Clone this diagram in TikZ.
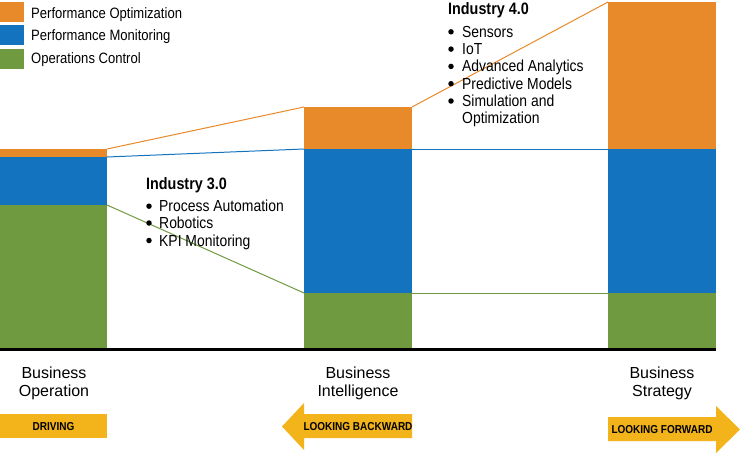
\documentclass[tikz,border=0pt]{standalone}
\usepackage{fontspec}
\setmainfont{Liberation Sans}
\newfontfamily\condfont[FakeStretch=0.87]{Liberation Sans}
\definecolor{optc}{RGB}{232,137,42}
\definecolor{monc}{RGB}{19,115,190}
\definecolor{ctlc}{RGB}{112,154,64}
\definecolor{arrc}{RGB}{242,179,27}
\begin{document}
\begin{tikzpicture}[x=1pt,y=-1pt,
  legtext/.style={anchor=base west, inner sep=0, font=\condfont\fontsize{15}{18}\selectfont},
  bodytext/.style={anchor=base west, inner sep=0, font=\condfont\fontsize{16}{18}\selectfont},
  headtext/.style={anchor=base west, inner sep=0, font=\condfont\bfseries\fontsize{16.5}{18}\selectfont},
  dotmark/.style={circle, fill=black, inner sep=0, minimum size=5.5pt},
  stagetext/.style={anchor=base, inner sep=0, font=\fontsize{16}{18}\selectfont},
  arrowtext/.style={anchor=base, inner sep=0, font=\condfont\bfseries\fontsize{11.5}{13}\selectfont},
  link/.style={line width=1pt}
]
\useasboundingbox (0,0) rectangle (740,453);

% legend
\fill[optc] (0,2) rectangle (24,22);
\fill[monc] (0,25) rectangle (24,45);
\fill[ctlc] (0,49) rectangle (24,69);
\node[legtext] (l1) at (31,18.3) {Performance Optimization};
\node[legtext] (l2) at (31,40.7) {Performance Monitoring};
\node[legtext] (l3) at (31,63.5) {Operations Control};

% bar 1
\fill[ctlc] (0,205) rectangle (107,349);
\fill[monc] (0,157) rectangle (107,205);
\fill[optc] (0,149) rectangle (107,157);
% bar 2
\fill[ctlc] (304,293) rectangle (412,349);
\fill[monc] (304,149) rectangle (412,293);
\fill[optc] (304,107) rectangle (412,149);
% bar 3
\fill[ctlc] (608,293) rectangle (716,349);
\fill[monc] (608,149) rectangle (716,293);
\fill[optc] (608,2) rectangle (716,149);

% connector end points
\coordinate (a1o) at (107,149);
\coordinate (a1m) at (107,157);
\coordinate (a1c) at (107,205);
\coordinate (b2o) at (304,107);
\coordinate (b2m) at (304,149);
\coordinate (b2c) at (304,293);
\coordinate (a2o) at (412,107);
\coordinate (a2m) at (412,149);
\coordinate (a2c) at (412,293);
\coordinate (b3o) at (608,2);
\coordinate (b3m) at (608,149);
\coordinate (b3c) at (608,293);

\draw[link, optc] (a1o) -- (b2o);
\draw[link, monc] (a1m) -- (b2m);
\draw[link, ctlc] (a1c) -- (b2c);
\draw[link, optc] (a2o) -- (b3o);
\draw[link, monc] (a2m) -- (b3m);
\draw[link, ctlc] (a2c) -- (b3c);

% baseline
\coordinate (base0) at (0,349.5);
\coordinate (base1) at (716,349.5);
\draw[line width=3pt, black] (base0) -- (base1);

% Industry 3.0
\node[headtext] (h3) at (146,189.3) {Industry 3.0};
\node[dotmark] (d31) at (149,206.2) {};
\node[bodytext] (t31) at (159,211.7) {Process Automation};
\node[dotmark] (d32) at (149,223) {};
\node[bodytext] (t32) at (159,228.5) {Robotics};
\node[dotmark] (d33) at (149,240.5) {};
\node[bodytext] (t33) at (159,246) {KPI Monitoring};

% Industry 4.0
\node[headtext] (h4) at (448,14) {Industry 4.0};
\node[dotmark] (d41) at (451,31.8) {};
\node[bodytext] (t41) at (462,37.3) {Sensors};
\node[dotmark] (d42) at (451,49.1) {};
\node[bodytext] (t42) at (462,54.6) {IoT};
\node[dotmark] (d43) at (451,66.4) {};
\node[bodytext] (t43) at (462,71.9) {Advanced Analytics};
\node[dotmark] (d44) at (451,83.7) {};
\node[bodytext] (t44) at (462,89.2) {Predictive Models};
\node[dotmark] (d45) at (451,101) {};
\node[bodytext] (t45) at (462,106.5) {Simulation and};
\node[bodytext] (t46) at (462,123.8) {Optimization};

% stage labels
\node[stagetext] (s1a) at (54,378.3) {Business};
\node[stagetext] (s1b) at (54,396) {Operation};
\node[stagetext] (s2a) at (358,378.3) {Business};
\node[stagetext] (s2b) at (358,396) {Intelligence};
\node[stagetext] (s3a) at (662,378.3) {Business};
\node[stagetext] (s3b) at (662,396) {Strategy};

% arrows
\fill[arrc] (0,414) rectangle (107,438);
\fill[arrc] (412,414) -- (304,414) -- (304,403) -- (282,426.5) -- (304,450) -- (304,438) -- (412,438) -- cycle;
\fill[arrc] (608,417) -- (716,417) -- (716,406) -- (740,429.5) -- (716,453) -- (716,441) -- (608,441) -- cycle;
\node[arrowtext] (r1) at (53.5,430.5) {DRIVING};
\node[arrowtext] (r2) at (358,430.5) {LOOKING BACKWARD};
\node[arrowtext] (r3) at (662,433.5) {LOOKING FORWARD};
\end{tikzpicture}
\end{document}
